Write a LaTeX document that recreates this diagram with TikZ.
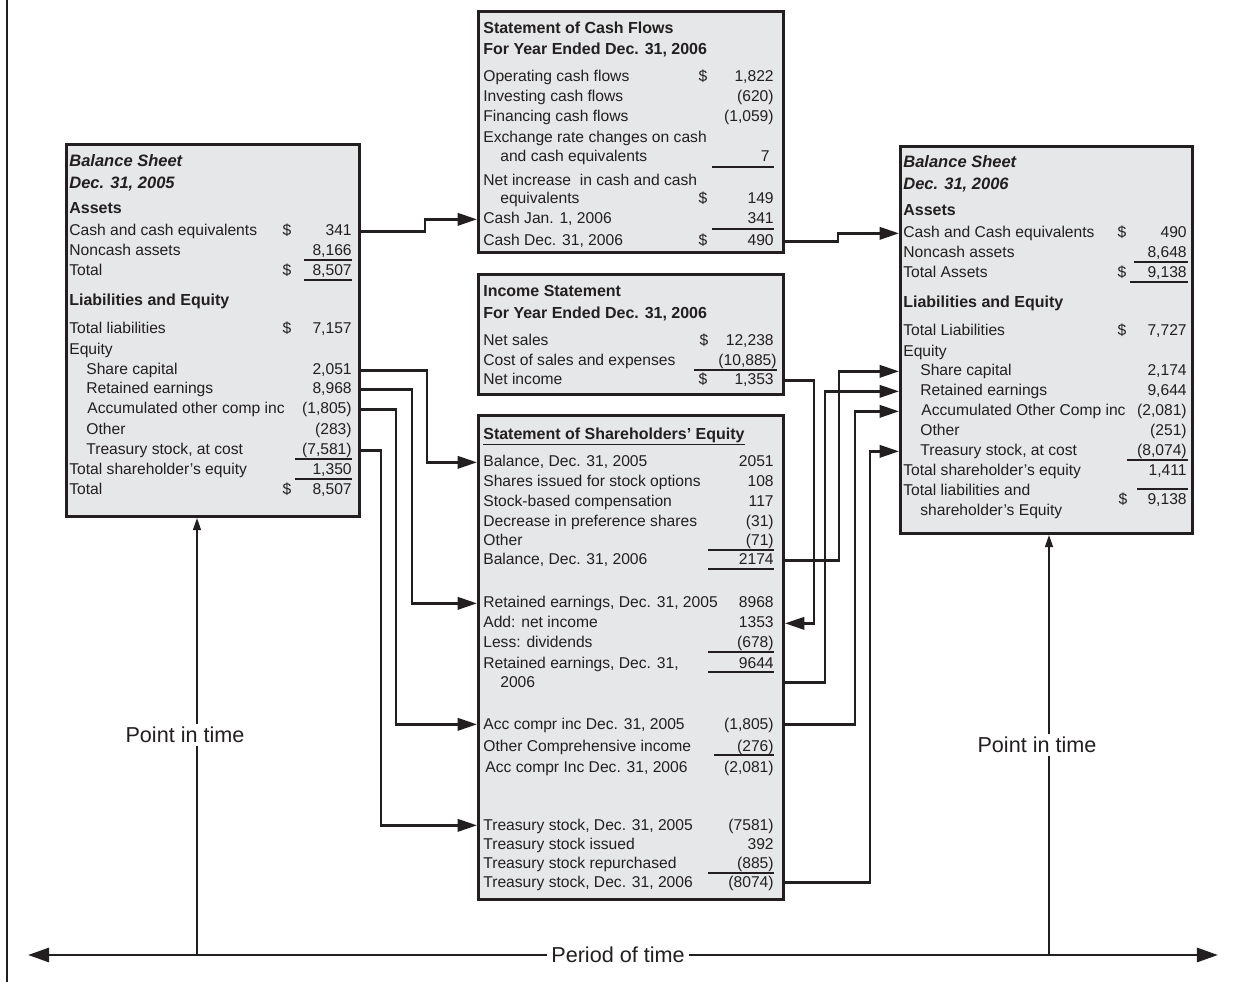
\documentclass[tikz,border=0pt]{standalone}
\usepackage{fontspec}
\setmainfont{Liberation Sans}
\usetikzlibrary{arrows.meta}
\definecolor{ink}{HTML}{231F20}
\definecolor{paper}{HTML}{E6E7E8}
\begin{document}
\begin{tikzpicture}[x=0.02cm,y=-0.02cm,
    box/.style={draw=ink,line width=1.7pt,fill=paper,anchor=north west,inner sep=0pt},
    lab/.style={anchor=base west,inner sep=0pt,text=ink,font=\fontsize{8.9}{10}\selectfont},
    num/.style={lab,anchor=base east},
    dol/.style={lab,anchor=base},
    head/.style={lab,font=\fontsize{9.1}{11}\selectfont\bfseries},
    bshead/.style={lab,font=\fontsize{9.4}{11}\selectfont\bfseries\itshape},
    uline/.style={draw=ink,line width=0.8pt},
    link/.style={draw=ink,line width=1.5pt,-{Triangle[length=11pt,width=7pt]}},
    tline/.style={draw=ink,line width=1.1pt,-{Triangle[length=7pt,width=4.5pt]}},
    timeaxis/.style={draw=ink,line width=1.6pt,-{Triangle[length=12pt,width=8pt]}},
    timetxt/.style={text=ink,font=\fontsize{12.3}{14}\selectfont,fill=white,inner sep=2pt}]
  \fill[white] (0,0) rectangle (1244,982);
  \useasboundingbox (0,0) rectangle (1244,982);
  \draw[ink,line width=0.8pt] (7,0) -- (7,982);

  % the five statements
  \node[box,minimum width=5.86cm,minimum height=7.44cm] (bsold) at (65,143) {};
  \node[box,minimum width=6.10cm,minimum height=4.82cm] (cf) at (477,10) {};
  \node[box,minimum width=6.10cm,minimum height=2.40cm] (inc) at (477,273) {};
  \node[box,minimum width=6.10cm,minimum height=9.68cm] (se) at (477,414) {};
  \node[box,minimum width=5.84cm,minimum height=7.74cm] (bsnew) at (899,145) {};

  % balance sheet 2005
  \node[bshead] (oT1) at (69,167) {Balance Sheet};
  \node[bshead] (oT2) at (69,189) {Dec. 31, 2005};
  \node[head] (oT3) at (69,214) {Assets};
  \node[lab] (oCash) at (69,236) {Cash and cash equivalents};
  \node[dol] (oCashD) at (287,236) {\$};
  \node[num] (oCashV) at (352,236) {341};
  \node[lab] (oNon) at (69,256) {Noncash assets};
  \node[num] (oNonV) at (352,256) {8,166};
  \draw[uline] (304,260) -- (352,260);
  \node[lab] (oTot) at (69,276) {Total};
  \node[dol] (oTotD) at (287,276) {\$};
  \node[num] (oTotV) at (352,276) {8,507};
  \draw[uline] (304,280) -- (352,280);
  \node[head] (oLE) at (69,306) {Liabilities and Equity};
  \node[lab] (oLia) at (69,334) {Total liabilities};
  \node[dol] (oLiaD) at (287,334) {\$};
  \node[num] (oLiaV) at (352,334) {7,157};
  \node[lab] (oEq) at (69,355) {Equity};
  \node[lab] (oShare) at (86,375) {Share capital};
  \node[num] (oShareV) at (352,375) {2,051};
  \node[lab] (oRet) at (86,394) {Retained earnings};
  \node[num] (oRetV) at (352,394) {8,968};
  \node[lab] (oAoci) at (87,414) {Accumulated other comp inc};
  \node[num] (oAociV) at (352,414) {(1,805)};
  \node[lab] (oOth) at (86,435) {Other};
  \node[num] (oOthV) at (352,435) {(283)};
  \node[lab] (oTr) at (86,455) {Treasury stock, at cost};
  \node[num] (oTrV) at (352,455) {(7,581)};
  \draw[uline] (295,459) -- (352,459);
  \node[lab] (oTse) at (69,475) {Total shareholder's equity};
  \node[num] (oTseV) at (352,475) {1,350};
  \draw[uline] (295,479) -- (352,479);
  \node[lab] (oAll) at (69,495) {Total};
  \node[dol] (oAllD) at (287,495) {\$};
  \node[num] (oAllV) at (352,495) {8,507};

  % cash flows
  \node[head] (cT1) at (483,34) {Statement of Cash Flows};
  \node[head] (cT2) at (483,55) {For Year Ended Dec. 31, 2006};
  \node[lab] (cOp) at (483,82) {Operating cash flows};
  \node[dol] (cOpD) at (703,82) {\$};
  \node[num] (cOpV) at (774,82) {1,822};
  \node[lab] (cInv) at (483,102) {Investing cash flows};
  \node[num] (cInvV) at (774,102) {(620)};
  \node[lab] (cFin) at (483,122) {Financing cash flows};
  \node[num] (cFinV) at (774,122) {(1,059)};
  \node[lab] (cEx) at (483,143) {Exchange rate changes on cash};
  \node[lab] (cEx2) at (500,162) {and cash equivalents};
  \node[num] (cExV) at (770,162) {7};
  \draw[uline] (712,167) -- (774,167);
  \node[lab] (cNet) at (483,186) {Net increase~ in cash and cash};
  \node[lab] (cNet2) at (500,204) {equivalents};
  \node[dol] (cNetD) at (703,204) {\$};
  \node[num] (cNetV) at (774,204) {149};
  \node[lab] (cJan) at (483,224) {Cash Jan. 1, 2006};
  \node[num] (cJanV) at (774,224) {341};
  \draw[uline] (712,229) -- (774,229);
  \node[lab] (cDec) at (483,246) {Cash Dec. 31, 2006};
  \node[dol] (cDecD) at (703,246) {\$};
  \node[num] (cDecV) at (774,246) {490};

  % income statement
  \node[head] (iT1) at (483,297) {Income Statement};
  \node[head] (iT2) at (483,319) {For Year Ended Dec. 31, 2006};
  \node[lab] (iSal) at (483,346) {Net sales};
  \node[dol] (iSalD) at (704,346) {\$};
  \node[num] (iSalV) at (774,346) {12,238};
  \node[lab] (iCos) at (483,366) {Cost of sales and expenses};
  \node[num] (iCosV) at (777,366) {(10,885)};
  \draw[uline] (694,370) -- (777,370);
  \node[lab] (iNet) at (483,385) {Net income};
  \node[dol] (iNetD) at (703,385) {\$};
  \node[num] (iNetV) at (774,385) {1,353};

  % shareholders' equity
  \node[head] (sT) at (483,440) {Statement of Shareholders' Equity};
  \draw[uline] ([yshift=-2.5pt]sT.base west) -- ([yshift=-2.5pt]sT.base east);
  \node[lab] (s1) at (483,467) {Balance, Dec. 31, 2005};
  \node[num] (s1v) at (774,467) {2051};
  \node[lab] (s2) at (483,487) {Shares issued for stock options};
  \node[num] (s2v) at (774,487) {108};
  \node[lab] (s3) at (483,507) {Stock-based compensation};
  \node[num] (s3v) at (774,507) {117};
  \node[lab] (s4) at (483,527) {Decrease in preference shares};
  \node[num] (s4v) at (774,527) {(31)};
  \node[lab] (s5) at (483,546) {Other};
  \node[num] (s5v) at (774,546) {(71)};
  \draw[uline] (708,550) -- (774,550);
  \node[lab] (s6) at (483,565) {Balance, Dec. 31, 2006};
  \node[num] (s6v) at (774,565) {2174};
  \draw[uline] (708,569) -- (774,569);
  \node[lab] (s7) at (483,608) {Retained earnings, Dec. 31, 2005};
  \node[num] (s7v) at (774,608) {8968};
  \node[lab] (s8) at (483,628) {Add: net income};
  \node[num] (s8v) at (774,628) {1353};
  \node[lab] (s9) at (483,648) {Less: dividends};
  \node[num] (s9v) at (774,648) {(678)};
  \draw[uline] (708,652) -- (774,652);
  \node[lab] (s10) at (483,668) {Retained earnings, Dec. 31,};
  \node[num] (s10v) at (774,668) {9644};
  \draw[uline] (708,672) -- (774,672);
  \node[lab] (s11) at (500,687) {2006};
  \node[lab] (s12) at (483,729) {Acc compr inc Dec. 31, 2005};
  \node[num] (s12v) at (774,729) {(1,805)};
  \node[lab] (s13) at (483,751) {Other Comprehensive income};
  \node[num] (s13v) at (774,751) {(276)};
  \draw[uline] (714,755) -- (774,755);
  \node[lab] (s14) at (485,772) {Acc compr Inc Dec. 31, 2006};
  \node[num] (s14v) at (774,772) {(2,081)};
  \node[lab] (s15) at (483,830) {Treasury stock, Dec. 31, 2005};
  \node[num] (s15v) at (774,830) {(7581)};
  \node[lab] (s16) at (483,849) {Treasury stock issued};
  \node[num] (s16v) at (774,849) {392};
  \node[lab] (s17) at (483,868) {Treasury stock repurchased};
  \node[num] (s17v) at (774,868) {(885)};
  \draw[uline] (708,873) -- (774,873);
  \node[lab] (s18) at (483,887) {Treasury stock, Dec. 31, 2006};
  \node[num] (s18v) at (774,887) {(8074)};

  % balance sheet 2006
  \node[bshead] (nT1) at (903,168) {Balance Sheet};
  \node[bshead] (nT2) at (903,190) {Dec. 31, 2006};
  \node[head] (nT3) at (903,216) {Assets};
  \node[lab] (nCash) at (903,238) {Cash and Cash equivalents};
  \node[dol] (nCashD) at (1122,238) {\$};
  \node[num] (nCashV) at (1187,238) {490};
  \node[lab] (nNon) at (903,258) {Noncash assets};
  \node[num] (nNonV) at (1187,258) {8,648};
  \draw[uline] (1134,262) -- (1188,262);
  \node[lab] (nTot) at (903,278) {Total Assets};
  \node[dol] (nTotD) at (1122,278) {\$};
  \node[num] (nTotV) at (1187,278) {9,138};
  \draw[uline] (1130,282) -- (1188,282);
  \node[head] (nLE) at (903,308) {Liabilities and Equity};
  \node[lab] (nLia) at (903,336) {Total Liabilities};
  \node[dol] (nLiaD) at (1122,336) {\$};
  \node[num] (nLiaV) at (1187,336) {7,727};
  \node[lab] (nEq) at (903,357) {Equity};
  \node[lab] (nShare) at (920,376) {Share capital};
  \node[num] (nShareV) at (1187,376) {2,174};
  \node[lab] (nRet) at (920,396) {Retained earnings};
  \node[num] (nRetV) at (1187,396) {9,644};
  \node[lab] (nAoci) at (921,416) {Accumulated Other Comp inc};
  \node[num] (nAociV) at (1187,416) {(2,081)};
  \node[lab] (nOth) at (920,436) {Other};
  \node[num] (nOthV) at (1187,436) {(251)};
  \node[lab] (nTr) at (920,456) {Treasury stock, at cost};
  \node[num] (nTrV) at (1187,456) {(8,074)};
  \draw[uline] (1127,460) -- (1188,460);
  \node[lab] (nTse) at (903,476) {Total shareholder's equity};
  \node[num] (nTseV) at (1187,476) {1,411};
  \node[lab] (nAll) at (903,496) {Total liabilities and};
  \node[lab] (nAll2) at (920,516) {shareholder's Equity};
  \node[dol] (nAllD) at (1123,505) {\$};
  \node[num] (nAllV) at (1187,505) {9,138};
  \draw[uline] (1137,489) -- (1188,489);

  % connectors
  \draw[link] (bsold.east |- oCashV.mid) -- ++(64,0) |- (cf.west |- cJan.mid);
  \draw[link] (cf.east |- cDecV.mid) -- ++(53,0) |- (bsnew.west |- nCash.mid);
  \draw[link] (bsold.east |- oShareV.mid) -- ++(66,0) |- (se.west |- s1.mid);
  \draw[link] (bsold.east |- oRetV.mid) -- ++(51,0) |- (se.west |- s7.mid);
  \draw[link] (bsold.east |- oAociV.mid) -- ++(35,0) |- (se.west |- s12.mid);
  \draw[link] (bsold.east |- oTrV.mid) -- ++(20,0) |- (se.west |- s15.mid);
  \draw[link] (inc.east |- iNetV.mid) -- ++(29,0) |- (se.east |- s8v.mid);
  \draw[link] (se.east |- s6v.mid) -- ++(54,0) |- (bsnew.west |- nShare.mid);
  \draw[link] (se.east |- s11.mid) -- ++(40,0) |- (bsnew.west |- nRet.mid);
  \draw[link] (se.east |- s12v.mid) -- ++(70,0) |- (bsnew.west |- nAoci.mid);
  \draw[link] (se.east |- s18v.mid) -- ++(85,0) |- (bsnew.west |- nTr.mid);

  % time line
  \coordinate (tl) at (28,955);
  \coordinate (tr) at (1218,955);
  \coordinate (p0) at (197,955);
  \coordinate (p1) at (1049,955);
  \node[timetxt] (period) at (618,955) {Period of time};
  \draw[timeaxis] (period.west) -- (tl);
  \draw[timeaxis] (period.east) -- (tr);
  \draw[tline] (p0) -- (p0 |- bsold.south);
  \draw[tline] (p1) -- (p1 |- bsnew.south);
  \node[timetxt] (pt0) at (185,735) {Point in time};
  \node[timetxt] (pt1) at (1037,745) {Point in time};
\end{tikzpicture}
\end{document}
